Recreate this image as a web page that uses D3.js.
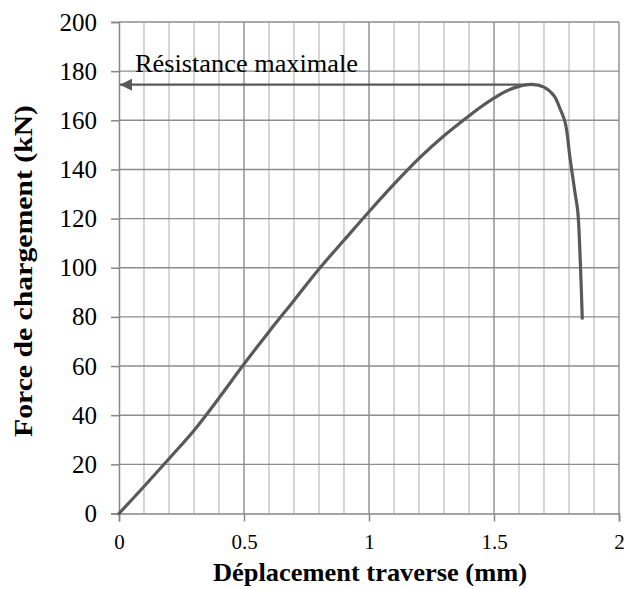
<!DOCTYPE html>
<html>
<head>
<meta charset="utf-8">
<script src="https://cdn.jsdelivr.net/npm/d3@7"></script>
<style>
  body { margin: 0; background: #fff; }
  text { font-family: "Liberation Serif", "Times New Roman", serif; fill: #000; }
</style>
</head>
<body>
<svg id="chart" width="625" height="589"></svg>
<script>
// load-displacement curve
var displacement = [0, 0.1, 0.2, 0.3, 0.4, 0.5, 0.6, 0.7, 0.8, 0.9, 1.0, 1.1, 1.2, 1.3, 1.4, 1.45, 1.5, 1.55, 1.6, 1.65, 1.7, 1.74, 1.765, 1.785, 1.805, 1.824, 1.835, 1.845, 1.853];
var force = [0, 11, 22.3, 33.8, 47, 60.8, 74, 86.7, 99.5, 111.2, 122.8, 134, 144.5, 153.7, 161.8, 165.6, 169, 171.9, 173.8, 174.6, 173.5, 170, 164.5, 159, 144, 130.5, 123, 103, 79.5];

var xTicks = [0, 0.5, 1, 1.5, 2];
var xTickLabels = ["0", "0.5", "1", "1.5", "2"];
var yTicks = [0, 20, 40, 60, 80, 100, 120, 140, 160, 180, 200];
var xMinorGrid = d3.range(0, 21).map(function(i) { return i / 10; });

var peakForce = 174.5;
var peakDisp = 1.645;
var annotation = "Résistance maximale";
var xTitle = "Déplacement traverse (mm)";
var yTitle = "Force de chargement (kN)";

var svg = d3.select("#chart");
var plotLeft = 119, plotRight = 619, plotTop = 22, plotBottom = 513.5;

var x = d3.scaleLinear().domain([0, 2]).range([plotLeft, plotRight]);
var y = d3.scaleLinear().domain([0, 200]).range([plotBottom, plotTop]);

var grid = svg.append("g").attr("class", "grid");

// minor vertical grid every 0.1
grid.selectAll("line.minor")
	.data(xMinorGrid.filter(function(d) { return Math.round(d * 10) % 5 != 0; }))
	.enter().append("line")
	.attr("class", "minor")
	.attr("x1", function(d) { return x(d); })
	.attr("x2", function(d) { return x(d); })
	.attr("y1", y(0))
	.attr("y2", y(200))
	.attr("stroke", "#c4c4c4")
	.attr("stroke-width", 1.4);

// major vertical grid
grid.selectAll("line.vmajor")
	.data(xTicks.slice(1))
	.enter().append("line")
	.attr("class", "vmajor")
	.attr("x1", function(d) { return x(d); })
	.attr("x2", function(d) { return x(d); })
	.attr("y1", y(0))
	.attr("y2", y(200))
	.attr("stroke", "#8c8c8c")
	.attr("stroke-width", 1.4);

// horizontal grid
grid.selectAll("line.hmajor")
	.data(yTicks.slice(1))
	.enter().append("line")
	.attr("class", "hmajor")
	.attr("x1", x(0))
	.attr("x2", x(2))
	.attr("y1", function(d) { return y(d); })
	.attr("y2", function(d) { return y(d); })
	.attr("stroke", "#8c8c8c")
	.attr("stroke-width", 1.4);

// axes
var xAxis = svg.append("g")
	.attr("transform", "translate(0," + y(0) + ")")
	.call(d3.axisBottom(x).tickValues(xTicks).tickSize(8).tickPadding(13)
		.tickFormat(function(d, i) { return xTickLabels[i]; }));
xAxis.select(".domain").attr("stroke", "#868686").attr("stroke-width", 1.5);
xAxis.selectAll(".tick line").attr("stroke", "#868686").attr("stroke-width", 1.5);
xAxis.selectAll(".tick text")
	.attr("font-size", "21px")
	.attr("font-family", "Liberation Serif")
	.attr("fill", "#000");

var yAxis = svg.append("g")
	.attr("transform", "translate(" + x(0) + ",0)")
	.call(d3.axisLeft(y).tickValues(yTicks).tickSize(8).tickPadding(14));
yAxis.select(".domain").attr("stroke", "#868686").attr("stroke-width", 1.5);
yAxis.selectAll(".tick line").attr("stroke", "#868686").attr("stroke-width", 1.5);
yAxis.selectAll(".tick text")
	.attr("font-size", "25px")
	.attr("font-family", "Liberation Serif")
	.attr("fill", "#000");

// curve
var line = d3.line()
	.x(function(d) { return x(d[0]); })
	.y(function(d) { return y(d[1]); })
	.curve(d3.curveCatmullRom.alpha(0.5));

svg.append("path")
	.datum(d3.zip(displacement, force))
	.attr("d", line)
	.attr("fill", "none")
	.attr("stroke", "#595959")
	.attr("stroke-width", 3.2)
	.attr("stroke-linecap", "round");

// arrow to the peak load
svg.append("defs").append("marker")
	.attr("id", "arrowhead")
	.attr("viewBox", "0 0 10 10")
	.attr("refX", 10)
	.attr("refY", 5)
	.attr("markerWidth", 5)
	.attr("markerHeight", 5)
	.attr("markerUnits", "strokeWidth")
	.attr("orient", "auto")
	.append("path")
	.attr("d", "M0,0L10,5L0,10z")
	.attr("fill", "#595959");

svg.append("line")
	.attr("x1", x(peakDisp))
	.attr("x2", x(0) + 1)
	.attr("y1", y(peakForce))
	.attr("y2", y(peakForce))
	.attr("stroke", "#595959")
	.attr("stroke-width", 2.4)
	.attr("marker-end", "url(#arrowhead)");

svg.append("text")
	.attr("x", 135)
	.attr("y", 72)
	.attr("font-size", "25px")
	.attr("textLength", 223)
	.attr("lengthAdjust", "spacingAndGlyphs")
	.text(annotation);

// axis titles
svg.append("text")
	.attr("x", 213)
	.attr("y", 581)
	.attr("font-size", "25px")
	.attr("font-weight", "bold")
	.attr("textLength", 314)
	.attr("lengthAdjust", "spacingAndGlyphs")
	.text(xTitle);

svg.append("text")
	.attr("transform", "translate(32,437) rotate(-90)")
	.attr("font-size", "25px")
	.attr("font-weight", "bold")
	.attr("textLength", 332)
	.attr("lengthAdjust", "spacingAndGlyphs")
	.text(yTitle);
</script>
</body>
</html>
